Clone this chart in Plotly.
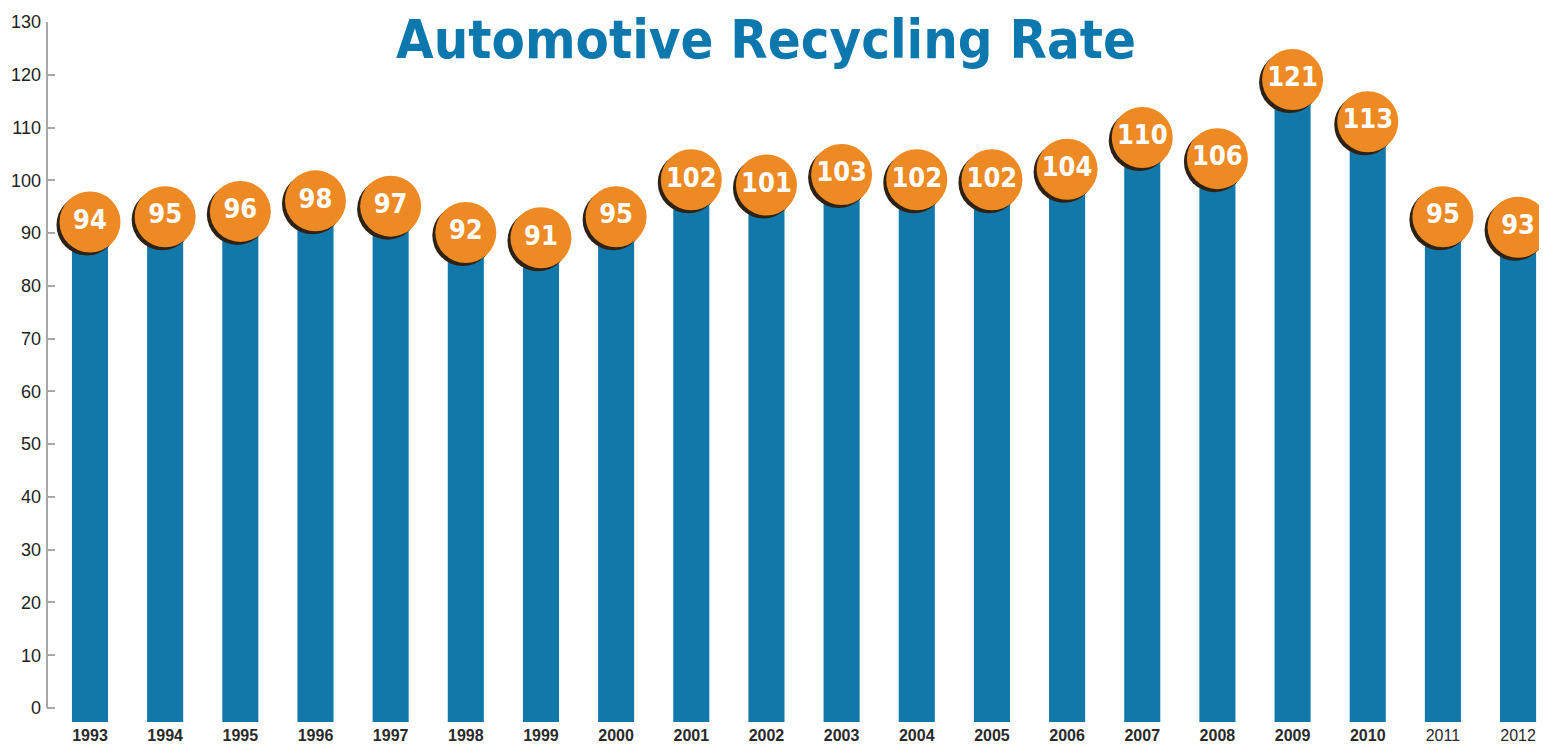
import plotly.graph_objects as go

years = ["1993", "1994", "1995", "1996", "1997", "1998", "1999", "2000", "2001", "2002",
         "2003", "2004", "2005", "2006", "2007", "2008", "2009", "2010", "2011", "2012"]
rates = [94, 95, 96, 98, 97, 92, 91, 95, 102, 101, 103, 102, 102, 104, 110, 106, 121, 113, 95, 93]
y_ticks = list(range(0, 131, 10))
title_text = "Automotive Recycling Rate"

BAR = "#1277A9"
ORANGE = "#EE8A24"
SHADOW = "#2E2216"
TITLE = "#0C78AD"
COND = "DejaVu Sans Condensed, Liberation Sans Narrow, Arial Narrow, sans-serif"

# page body has an 8px margin, so the figure is sized to fit the 1547x747 window
W, H = 1539, 739

# axis geometry
X_RANGE = [-0.572, 19.385]
Y_RANGE = [-2.65, 130]
PX_X = 1500 / (X_RANGE[1] - X_RANGE[0])
PX_Y = 686 / 130.0
badge_drop = 10 / PX_Y          # badges sit slightly low on their bars
sh_dx = 3 / PX_X
sh_dy = 3 / PX_Y

ticktext = [("<b>%s</b>" % y) if i < len(years) - 2 else y for i, y in enumerate(years)]

fig = go.Figure()
fig.add_trace(go.Bar(x=years, y=[r - Y_RANGE[0] for r in rates], base=Y_RANGE[0],
                     marker=dict(color=BAR, line=dict(width=0)), width=0.48,
                     hoverinfo="skip", showlegend=False))
# badge shadow
fig.add_trace(go.Scatter(x=years, y=rates, mode="markers", xaxis="x2", yaxis="y2",
                         marker=dict(size=61, color=SHADOW, line=dict(width=0)),
                         hoverinfo="skip", showlegend=False))
# badge
fig.add_trace(go.Scatter(x=years, y=rates, mode="markers+text", xaxis="x3", yaxis="y3",
                         text=["<b>%d</b>" % r for r in rates], textposition="middle center",
                         textfont=dict(family=COND, size=27, color="white"),
                         marker=dict(size=61, color=ORANGE, line=dict(width=0)),
                         hovertemplate="%{x}: %{y}<extra></extra>", showlegend=False))

fig.update_layout(
    width=W, height=H,
    margin=dict(l=39, r=0, t=14, b=25, autoexpand=False),
    paper_bgcolor="white", plot_bgcolor="white",
    bargap=0.52,
    title=dict(text="<b>" + title_text + "</b>", xref="container", yref="container",
               x=(766 - 8) / W, xanchor="center", y=0.984, yanchor="top",
               font=dict(family=COND, size=54, color=TITLE)),
    xaxis=dict(type="category", range=X_RANGE, categoryorder="array", categoryarray=years,
               tickmode="array", tickvals=years, ticktext=ticktext, automargin=False,
               tickfont=dict(family="Liberation Sans, Arial", size=16, color="#2a2a2a"),
               showgrid=False, zeroline=False, showline=False, ticks="", ticklabelstandoff=2),
    yaxis=dict(range=Y_RANGE, tickmode="array", tickvals=y_ticks, automargin=False,
               tickfont=dict(family="Liberation Sans, Arial", size=18, color="#222222"),
               showgrid=False, zeroline=False, showline=False,
               ticks="inside", ticklen=8, tickwidth=2, tickcolor="#A8A8A8",
               ticklabelstandoff=5),
    xaxis2=dict(type="category", overlaying="x", categoryorder="array", categoryarray=years,
                range=[X_RANGE[0] + sh_dx, X_RANGE[1] + sh_dx], visible=False),
    yaxis2=dict(overlaying="y", range=[Y_RANGE[0] + badge_drop + sh_dy, Y_RANGE[1] + badge_drop + sh_dy],
                visible=False),
    xaxis3=dict(type="category", overlaying="x", categoryorder="array", categoryarray=years,
                range=X_RANGE, visible=False),
    yaxis3=dict(overlaying="y", range=[Y_RANGE[0] + badge_drop, Y_RANGE[1] + badge_drop],
                visible=False),
    shapes=[dict(type="line", xref="paper", yref="y", x0=0, x1=0, y0=0, y1=130,
                 line=dict(color="#A8A8A8", width=2), layer="above")],
)

fig.write_html("out.html")
